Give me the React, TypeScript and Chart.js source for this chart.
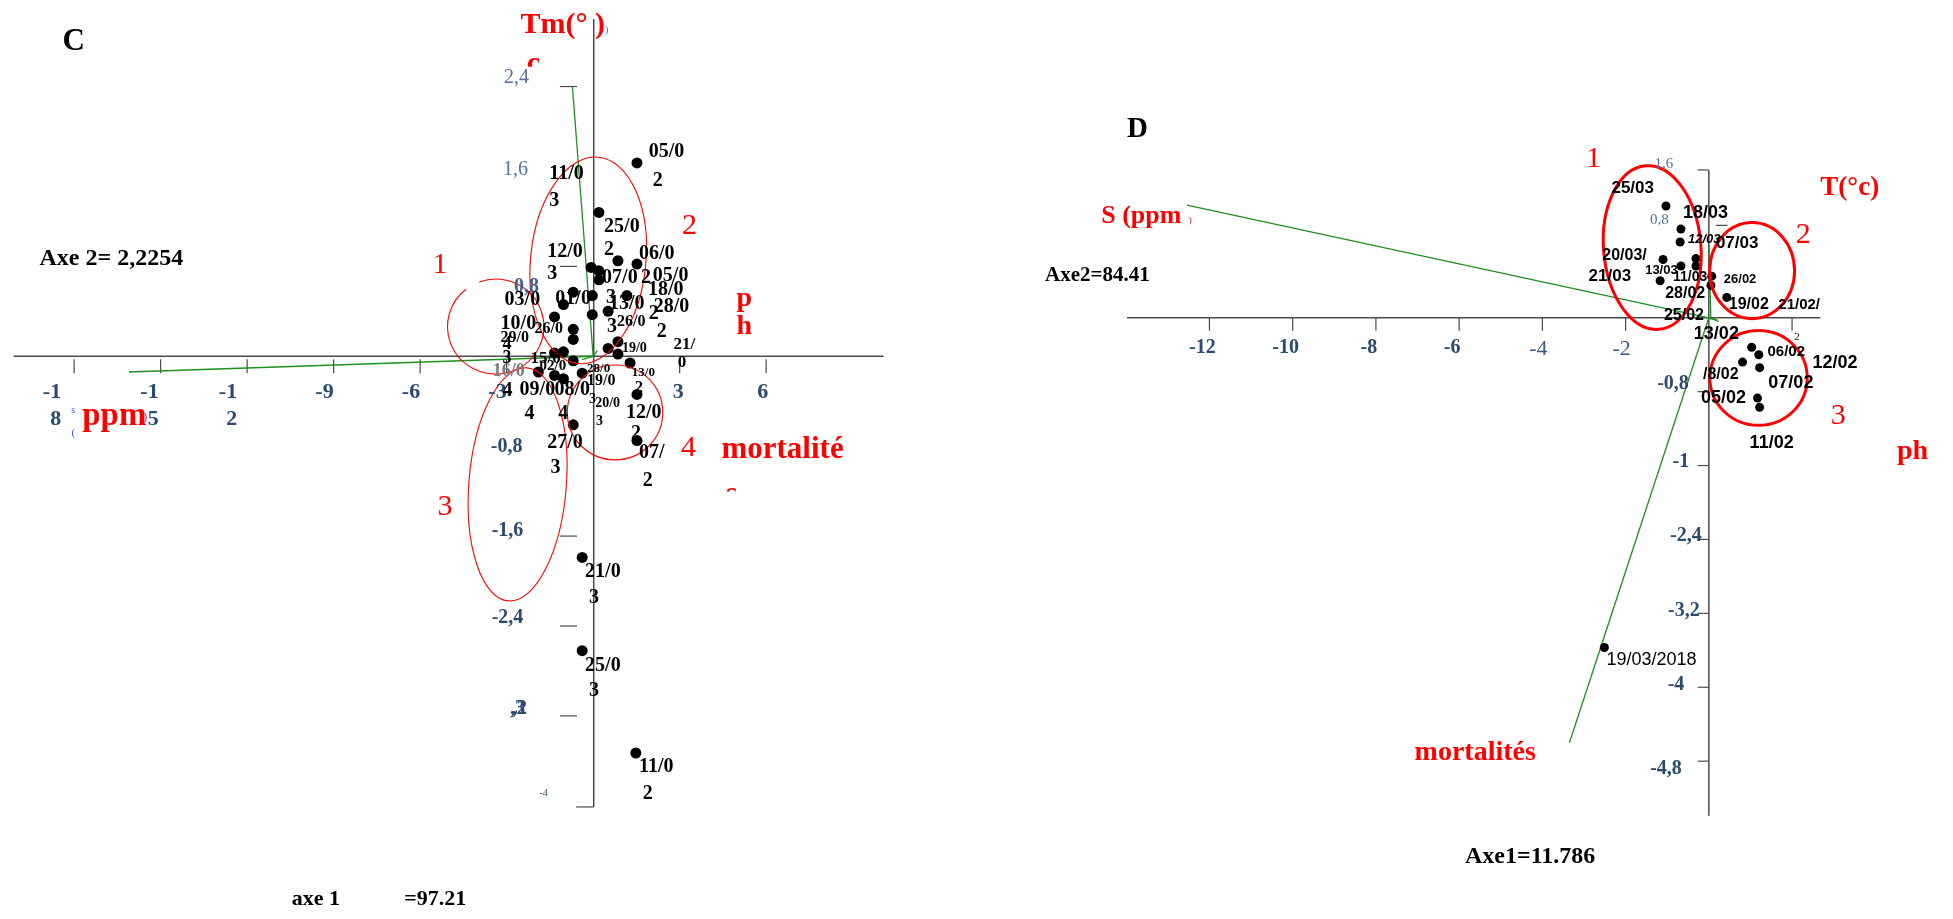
import React, { useEffect, useRef } from "react";
import { Chart, registerables } from "chart.js";

Chart.register(...registerables);

const W = 1953;
const H = 919;
const SERIF = '"Liberation Serif", "Times New Roman", serif';
const SANS = '"Liberation Sans", Arial, sans-serif';
const RED = "#ff0000";
const GREEN = "#1f8f1f";
const TICK_DARK = "#2b4a6f";
const TICK_LIGHT = "#5571a0";
const AXIS = "#4a4a4a";

// ---------------- Panel C : observations (axe 1 = 97.21, axe 2 = 2,2254)
const cObsX = [1.52, 0.2, 0.86, 1.52, -0.07, 0.2, 0.2, -0.69, -0.03, 1.17, -1.03, 0.52, -0.03, -1.34, -0.69, -0.69, 0.86, 0.52, 0.86, -1.34, -1.03, -0.69, 1.28, -1.9, -1.34, -1.03, -0.38, 1.52, -0.69, 1.52, -0.38, -0.38, 1.48];
const cObsY = [1.72, 1.28, 0.85, 0.82, 0.79, 0.76, 0.68, 0.57, 0.54, 0.54, 0.46, 0.4, 0.37, 0.35, 0.24, 0.15, 0.13, 0.07, 0.02, 0.03, 0.04, -0.04, -0.06, -0.14, -0.17, -0.2, -0.15, -0.34, -0.61, -0.75, -1.79, -2.62, -3.53];

// date labels of panel C: [text, x, y, font size]
const cDates: [string, number, number, number][] = [
  ["05/0", 1.93, 1.82, 20], ["2", 2.07, 1.565, 20],
  ["11/0", -1.52, 1.62, 20], ["3", -1.52, 1.38, 20],
  ["25/0", 0.38, 1.15, 20], ["2", 0.38, 0.95, 20],
  ["12/0", -1.59, 0.93, 20], ["3", -1.59, 0.73, 20],
  ["06/0", 1.59, 0.91, 20],
  ["07/0", 0.31, 0.7, 20], ["2", 1.66, 0.7, 20],
  ["05/0", 2.07, 0.72, 20],
  ["18/0", 1.9, 0.59, 20],
  ["28/0", 2.1, 0.44, 20], ["2", 1.93, 0.38, 20],
  ["3", 0.45, 0.52, 20], ["13/0", 0.55, 0.47, 20],
  ["26/0", 0.83, 0.31, 16], ["3", 0.48, 0.26, 20],
  ["2", 2.21, 0.22, 20],
  ["19/0", 1.0, 0.07, 14],
  ["21/", 2.79, 0.105, 17], ["0", 2.93, -0.06, 17],
  ["01/0", -1.31, 0.51, 20],
  ["03/0", -3.07, 0.5, 20],
  ["10/0", -3.21, 0.29, 20],
  ["26/0", -2.03, 0.24, 16],
  ["29/0", -3.21, 0.16, 16],
  ["4", -3.14, 0.105, 18], ["3", -3.14, -0.02, 18],
  ["15/0", -2.17, -0.02, 17],
  ["02/0", -1.86, -0.09, 15],
  ["4", -3.14, -0.31, 20],
  ["28/0", -0.21, -0.11, 13],
  ["13/0", 1.34, -0.15, 13],
  ["19/0", -0.21, -0.22, 16],
  ["09/0", -2.55, -0.3, 20], ["4", -2.38, -0.51, 20],
  ["08/0", -1.34, -0.3, 20], ["4", -1.21, -0.51, 20],
  ["3", -0.14, -0.38, 14], ["20/0", 0.07, -0.42, 14], ["3", 0.1, -0.58, 14],
  ["2", 1.45, -0.28, 16],
  ["12/0", 1.14, -0.5, 20], ["2", 1.31, -0.69, 20],
  ["27/0", -1.59, -0.77, 20], ["3", -1.48, -0.99, 20],
  ["07/", 1.59, -0.86, 20], ["2", 1.72, -1.11, 20],
  ["21/0", -0.28, -1.92, 20], ["3", -0.14, -2.15, 20],
  ["25/0", -0.28, -2.75, 20], ["3", -0.14, -2.98, 20],
  ["11/0", 1.59, -3.65, 20], ["2", 1.72, -3.89, 20],
];
const cGreyDates: [string, number, number, number][] = [["16/0", -3.48, -0.13, 18]];

// variable vectors of panel C: [x0, y0, x1, y1]
const cVectors = [
  [0, 0, -0.72, 2.4],
  [0, 0, -16.1, -0.14],
  [0, 0, -0.38, -0.03],
  [0, 0, 0.14, 0.05],
];

const cTickX = [-18, -15, -12, -9, -6, -3, 3, 6];
const cTickXText = [["-1", "8"], ["-1", "5"], ["-1", "2"], ["-9"], ["-6"], ["-3"], ["3"], ["6"]];
const cTickXShift = [-13, -2, -10, 0, 0, 0, 4, 2];
const cTickY = [2.4, 0.8, -1.6, -2.4, -3.2];
const cTickYText: [string, number, number, string][] = [
  ["2,4", -2.66, 2.48, "l"], ["1,6", -2.69, 1.66, "l"], ["0,8", -2.31, 0.615, "m"],
  ["-0,8", -3.0, -0.81, "b"], ["-1,6", -2.97, -1.55, "b"], ["-2,4", -2.97, -2.33, "b"],
  [",3", -2.62, -3.14, "b"], [",2", -2.55, -3.14, "b"], ["-4", -1.72, -3.89, "s"],
];

// groups (ellipses) of panel C: centre x, centre y, radius x, radius y, rotation
const cGroups = [
  [-3.38, 0.264, 1.67, 0.422, 0],
  [-0.17, 0.853, 2.0, 0.923, 0.1],
  [-2.62, -1.14, 1.69, 1.04, 0.08],
  [0.76, -0.5, 1.655, 0.422, 0],
];
const cGroupNames: [string, number, number][] = [["1", -5.31, 0.81], ["2", 3.34, 1.16], ["3", -5.14, -1.34], ["4", 3.31, -0.82]];

// ---------------- Panel D : observations (Axe1 = 11.786, Axe2 = 84.41)
const dObsX = [-1.03, -0.67, -0.69, -0.31, -1.1, -0.67, -0.31, -1.17, 0.07, 0.05, 0.43, 1.03, 1.2, 0.81, 1.22, 1.17, 1.22, -2.51];
const dObsY = [1.21, 0.96, 0.82, 0.64, 0.63, 0.56, 0.56, 0.4, 0.45, 0.35, 0.22, -0.32, -0.4, -0.48, -0.54, -0.87, -0.97, -3.57];

const dDates: [string, number, number, number, string][] = [
  ["25/03", -2.34, 1.4, 17, "bold"], ["18/03", -0.62, 1.13, 18, "bold"], ["12/03", -0.5, 0.845, 13, "italic bold"],
  ["07/03", 0.17, 0.81, 17, "bold"], ["20/03/", -2.56, 0.67, 16, "bold"], ["21/03", -2.89, 0.45, 17, "bold"],
  ["13/03", -1.53, 0.51, 13, "bold"], ["11/03", -0.86, 0.44, 14, "bold"], ["26/02", 0.36, 0.41, 13, "bold"],
  ["28/02", -1.05, 0.26, 16, "bold"], ["19/02", 0.48, 0.14, 16, "bold"], ["21/02/", 1.67, 0.14, 15, "bold"],
  ["25/02", -1.08, 0.02, 16, "bold"], ["13/02", -0.36, -0.18, 18, "bold"], ["06/02", 1.41, -0.37, 15, "bold"],
  ["12/02", 2.49, -0.49, 18, "bold"], ["/8/02", -0.14, -0.61, 16, "bold"], ["07/02", 1.43, -0.71, 18, "bold"],
  ["05/02", -0.19, -0.87, 18, "bold"], ["11/02", 0.98, -1.36, 18, "bold"], ["19/03/2018", -2.46, -3.71, 18, "normal"],
];

const dVectors = [
  [0.2, -0.02, -12.54, 1.22],
  [0, 0, -3.35, -4.6],
  [0.05, -0.02, 0.0, 0.78],
  [0, 0, 0.24, -0.04],
];

const dTickX = [-12, -10, -8, -6, -4, -2, 2];
const dTickXText = ["-12", "-10", "-8", "-6", "-4", "-2", "2"];
const dTickY = [1.6, -0.8, -1.6, -2.4, -3.2, -4, -4.8];
const dTickYText: [string, number, number, string][] = [
  ["1,6", -1.08, 1.66, "l"], ["0,8", -1.19, 1.06, "l"], ["-0,8", -0.86, -0.71, "b"], ["-1", -0.67, -1.56, "b"],
  ["-2,4", -0.55, -2.36, "b"], ["-3,2", -0.6, -3.17, "b"], ["-4", -0.79, -3.97, "b"], ["-4,8", -1.03, -4.88, "b"],
];

const dGroups = [
  [-1.36, 0.76, 1.17, 0.888, -0.08],
  [1.04, 0.51, 1.02, 0.52, 0],
  [1.195, -0.652, 1.17, 0.513, 0],
];
const dGroupNames: [string, number, number][] = [["1", -2.77, 1.72], ["2", 2.27, 0.89], ["3", 3.11, -1.06]];

function txt(ctx: CanvasRenderingContext2D, t: string, x: number, y: number, font: string, color: string, align: CanvasTextAlign = "left", base: CanvasTextBaseline = "middle") {
  ctx.font = font;
  ctx.fillStyle = color;
  ctx.textAlign = align;
  ctx.textBaseline = base;
  ctx.fillText(t, x, y);
}

function seg(ctx: CanvasRenderingContext2D, a: number[], b: number[]) {
  ctx.beginPath();
  ctx.moveTo(a[0], a[1]);
  ctx.lineTo(b[0], b[1]);
  ctx.stroke();
}

const decor = {
  id: "decor",
  beforeDatasetsDraw(chart: any) {
    const ctx: CanvasRenderingContext2D = chart.ctx;
    const s = chart.scales;
    const C = (x: number, y: number) => [s.xC.getPixelForValue(x), s.yC.getPixelForValue(y)];
    const D = (x: number, y: number) => [s.xD.getPixelForValue(x), s.yD.getPixelForValue(y)];
    ctx.save();
    ctx.strokeStyle = AXIS;
    ctx.lineWidth = 1.5;
    // panel C axes
    seg(ctx, C(-20.1, 0), C(10.07, 0));
    seg(ctx, C(0.02, 3.0), C(0.02, -4.01));
    ctx.lineWidth = 1.2;
    cTickX.forEach((v) => {
      const p = C(v, 0);
      seg(ctx, [p[0], p[1] + 3], [p[0], p[1] + 17]);
    });
    cTickY.forEach((v) => seg(ctx, C(-1.15, v), C(-0.56, v)));
    seg(ctx, C(-0.59, -4.01), C(0.02, -4.01));
    // panel D axes
    ctx.lineWidth = 1.5;
    seg(ctx, D(-13.98, 0), D(2.68, 0));
    seg(ctx, D(0, 1.6), D(0, -5.39));
    ctx.lineWidth = 1.2;
    dTickX.forEach((v) => {
      const p = D(v, 0);
      seg(ctx, [p[0], p[1]], [p[0], p[1] + 13]);
    });
    dTickY.forEach((v) => seg(ctx, D(-0.27, v), D(0, v)));
    seg(ctx, D(0.17, 1.0), D(0.45, 1.0));
    ctx.restore();
  },
  afterDatasetsDraw(chart: any) {
    const ctx: CanvasRenderingContext2D = chart.ctx;
    const s = chart.scales;
    const C = (x: number, y: number) => [s.xC.getPixelForValue(x), s.yC.getPixelForValue(y)];
    const D = (x: number, y: number) => [s.xD.getPixelForValue(x), s.yD.getPixelForValue(y)];
    ctx.save();

    // ---- ellipses
    const ell = (P: (x: number, y: number) => number[], g: number[], lw: number, gap?: boolean) => {
      const c = P(g[0], g[1]);
      const rx = Math.abs(P(g[0] + g[2], g[1])[0] - c[0]);
      const ry = Math.abs(P(g[0], g[1] + g[3])[1] - c[1]);
      ctx.beginPath();
      if (gap) ctx.ellipse(c[0], c[1], rx, ry, g[4], -1.92, 4.05);
      else ctx.ellipse(c[0], c[1], rx, ry, g[4], 0, Math.PI * 2);
      ctx.strokeStyle = RED;
      ctx.lineWidth = lw;
      ctx.stroke();
    };
    cGroups.forEach((g, i) => ell(C, g, 1.1, i === 0));
    dGroups.forEach((g) => ell(D, g, 3));

    // ---- panel C texts
    const F = (w: string, px: number) => `${w} ${px}px ${SERIF}`;
    cTickX.forEach((v, i) => {
      const p = C(v, 0);
      const lines = cTickXText[i];
      lines.forEach((l, k) => txt(ctx, l, p[0] + cTickXShift[i], p[1] + 36 + k * 27, F("bold", 22), TICK_DARK, "right"));
    });
    cTickYText.forEach(([t, x, y, st]) => {
      const p = C(x, y);
      const font = st === "l" ? F("normal", 20) : st === "s" ? F("normal", 10) : F("bold", 20);
      const col = st === "l" ? TICK_LIGHT : st === "m" ? "#3f5e8c" : TICK_DARK;
      txt(ctx, t, p[0], p[1], font, col, "center");
    });
    cGreyDates.forEach(([t, x, y, sz]) => {
      const p = C(x, y);
      txt(ctx, t, p[0], p[1], F("bold", sz), "#7a7a7a");
    });
    cDates.forEach(([t, x, y, sz]) => {
      const p = C(x, y);
      txt(ctx, t, p[0], p[1], F("bold", sz), "#000");
    });
    cGroupNames.forEach(([t, x, y]) => {
      const p = C(x, y);
      txt(ctx, t, p[0], p[1], F("normal", 30), RED, "center");
    });
    let p = C(-18.4, 2.8);
    txt(ctx, "C", p[0], p[1], F("bold", 31), "#000");
    p = C(-19.2, 0.87);
    txt(ctx, "Axe 2= 2,2254", p[0], p[1], F("bold", 24), "#000");
    p = C(-10.45, -4.835);
    txt(ctx, "axe 1", p[0], p[1], F("bold", 22), "#000");
    p = C(-6.55, -4.835);
    txt(ctx, "=97.21", p[0], p[1], F("bold", 22), "#000");
    p = C(-2.52, 2.945);
    txt(ctx, "Tm(° )", p[0], p[1], F("bold", 30), RED);
    p = C(0.41, 2.9);
    txt(ctx, ")", p[0], p[1], F("normal", 10), "#3355ff");
    // partially hidden letters
    ctx.save();
    let clip = C(-2.52, 2.576);
    ctx.beginPath();
    ctx.rect(0, 0, W, clip[1]);
    ctx.clip();
    p = C(-2.3, 2.53);
    txt(ctx, "c", p[0], p[1], F("bold", 30), RED, "left", "alphabetic");
    ctx.restore();
    ctx.save();
    clip = C(4.6, -1.204);
    ctx.beginPath();
    ctx.rect(0, 0, W, clip[1]);
    ctx.clip();
    p = C(4.6, -1.3);
    txt(ctx, "s", p[0], p[1], F("bold", 30), RED, "left", "alphabetic");
    ctx.restore();
    p = C(4.97, 0.51);
    txt(ctx, "p", p[0], p[1], F("bold", 28), RED);
    p = C(4.97, 0.264);
    txt(ctx, "h", p[0], p[1], F("bold", 28), RED);
    p = C(4.45, -0.835);
    txt(ctx, "mortalité", p[0], p[1], F("bold", 31), RED);
    p = C(-17.72, -0.536);
    txt(ctx, "ppm", p[0], p[1], F("bold", 33), RED);
    p = C(-15.53, -0.55);
    txt(ctx, ")", p[0], p[1], F("normal", 12), "#3355ff", "center");
    p = C(-18.03, -0.48);
    txt(ctx, "s", p[0], p[1], F("normal", 10), "#3355ff", "center");
    p = C(-18.03, -0.68);
    txt(ctx, "(", p[0], p[1], F("normal", 11), "#3355ff", "center");

    // ---- panel D texts
    dTickX.forEach((v, i) => {
      const q = D(v, 0);
      const t = dTickXText[i];
      if (v === 2) txt(ctx, t, q[0] + 5, q[1] + 19, F("normal", 11), "#222", "center");
      else if (v >= -4) txt(ctx, t, q[0] - 4, q[1] + 31, F("normal", 22), "#3d5a87", "center");
      else txt(ctx, t, q[0] - 7, q[1] + 30, F("bold", 20), TICK_DARK, "center");
    });
    dTickYText.forEach(([t, x, y, st]) => {
      const q = D(x, y);
      const font = st === "l" ? F("normal", 15) : F("bold", 20);
      txt(ctx, t, q[0], q[1], font, st === "l" ? TICK_LIGHT : TICK_DARK, "center");
    });
    dDates.forEach(([t, x, y, sz, w]) => {
      const q = D(x, y);
      txt(ctx, t, q[0], q[1], `${w} ${sz}px ${SANS}`, "#000");
    });
    dGroupNames.forEach(([t, x, y]) => {
      const q = D(x, y);
      txt(ctx, t, q[0], q[1], F("normal", 30), RED, "center");
    });
    p = D(-13.98, 2.04);
    txt(ctx, "D", p[0], p[1], F("bold", 29), "#000");
    p = D(-15.95, 0.46);
    txt(ctx, "Axe2=84.41", p[0], p[1], F("bold", 21), "#000");
    p = D(-5.86, -5.84);
    txt(ctx, "Axe1=11.786", p[0], p[1], F("bold", 24), "#000");
    p = D(-14.6, 1.1);
    txt(ctx, "S (ppm", p[0], p[1], F("bold", 26), RED);
    p = D(-12.5, 1.05);
    txt(ctx, ")", p[0], p[1], F("normal", 9), "#aa2222");
    p = D(2.68, 1.4);
    txt(ctx, "T(°c)", p[0], p[1], F("bold", 27), RED);
    p = D(4.52, -1.45);
    txt(ctx, "ph", p[0], p[1], F("bold", 28), RED);
    p = D(-7.07, -4.71);
    txt(ctx, "mortalités", p[0], p[1], F("bold", 28), RED);

    ctx.restore();
  },
};

function buildDatasets() {
  const ds: any[] = [];
  ds.push({
    label: "C",
    data: cObsX.map((x, i) => ({ x, y: cObsY[i] })),
    xAxisID: "xC",
    yAxisID: "yC",
    pointRadius: 5.5,
    pointBackgroundColor: "#000",
    pointBorderColor: "#000",
    pointBorderWidth: 0,
    clip: false,
  });
  ds.push({
    label: "D",
    data: dObsX.map((x, i) => ({ x, y: dObsY[i] })),
    xAxisID: "xD",
    yAxisID: "yD",
    pointRadius: 4.5,
    pointBackgroundColor: "#000",
    pointBorderColor: "#000",
    pointBorderWidth: 0,
    clip: false,
  });
  const vec = (v: number[], xa: string, ya: string) => ({
    data: [{ x: v[0], y: v[1] }, { x: v[2], y: v[3] }],
    xAxisID: xa,
    yAxisID: ya,
    showLine: true,
    borderColor: GREEN,
    borderWidth: 1.3,
    pointRadius: 0,
    fill: false,
    clip: false,
  });
  cVectors.forEach((v) => ds.push(vec(v, "xC", "yC")));
  dVectors.forEach((v) => ds.push(vec(v, "xD", "yD")));
  return ds;
}

export default function App() {
  const ref = useRef<HTMLCanvasElement>(null);
  useEffect(() => {
    if (!ref.current) return;
    const chart = new Chart(ref.current, {
      type: "scatter",
      data: { datasets: buildDatasets() },
      options: {
        animation: false,
        responsive: false,
        maintainAspectRatio: false,
        devicePixelRatio: 1,
        layout: { padding: 0 },
        events: [],
        plugins: { legend: { display: false }, tooltip: { enabled: false }, title: { display: false } },
        scales: {
          xC: { type: "linear", axis: "x", position: "bottom", min: -20.38, max: 46.97, display: false },
          yC: { type: "linear", axis: "y", position: "left", min: -4.958, max: 3.121, display: false },
          xD: { type: "linear", axis: "x", position: "bottom", min: -40.93, max: 5.735, display: false },
          yD: { type: "linear", axis: "y", position: "left", min: -6.449, max: 3.38, display: false },
        },
      } as any,
      plugins: [decor as any],
    });
    return () => chart.destroy();
  }, []);
  return (
    <div style={{ position: "absolute", left: 0, top: 0, width: W, height: H, background: "#fff" }}>
      <canvas ref={ref} width={W} height={H} style={{ display: "block", width: W, height: H }} />
    </div>
  );
}
